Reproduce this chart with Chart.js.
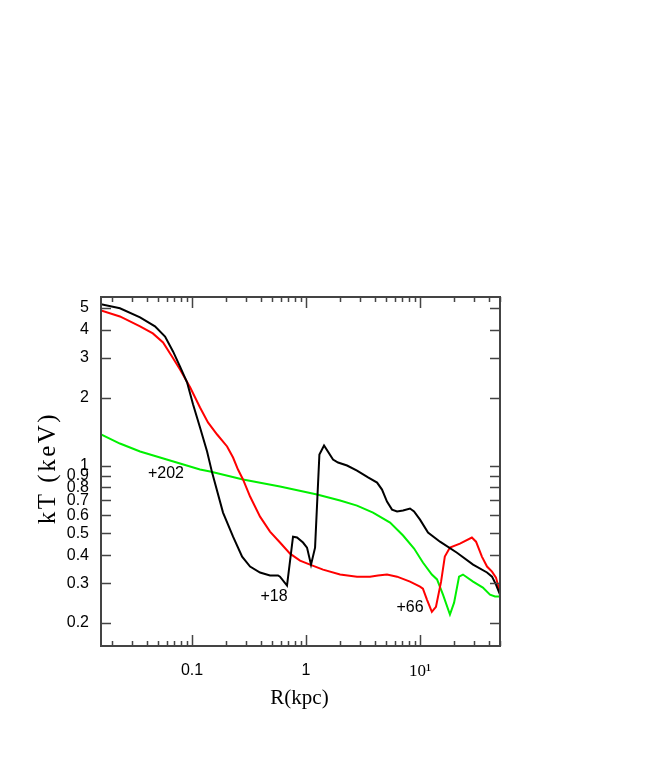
<!DOCTYPE html>
<html>
<head>
<meta charset="utf-8">
<script src="https://cdn.jsdelivr.net/npm/chart.js@4.4.1/dist/chart.umd.min.js"></script>
<style>
  body { margin: 0; background: #fff; }
</style>
</head>
<body>
<canvas id="kt-chart" width="654" height="763"></canvas>
<script>
// black profile
const blackR  = [0.0159, 0.0233, 0.035, 0.0473, 0.058, 0.0681, 0.0785, 0.0904, 0.102, 0.1175, 0.1355, 0.150, 0.187, 0.229, 0.275, 0.323, 0.395, 0.483, 0.568, 0.591, 0.681, 0.769, 0.834, 0.941, 1.02, 1.106, 1.2, 1.31, 1.439, 1.725, 1.91, 2.29, 2.80, 3.50, 4.20, 4.64, 5.13, 5.68, 6.29, 7.10, 8.17, 8.86, 10, 11.75, 14.97, 21.1, 29.2, 38.7, 42.8, 46.4, 50.3];
const blackKT = [5.20, 4.99, 4.55, 4.15, 3.74, 3.21, 2.75, 2.34, 1.87, 1.475, 1.154, 0.93, 0.618, 0.483, 0.394, 0.356, 0.335, 0.325, 0.325, 0.321, 0.293, 0.483, 0.479, 0.455, 0.432, 0.363, 0.432, 1.12, 1.227, 1.063, 1.031, 1.0, 0.95, 0.885, 0.84, 0.782, 0.692, 0.637, 0.625, 0.631, 0.644, 0.625, 0.575, 0.504, 0.459, 0.410, 0.363, 0.335, 0.321, 0.296, 0.267];

// red profile
const redR  = [0.0159, 0.0233, 0.035, 0.0453, 0.0557, 0.0667, 0.0785, 0.0964, 0.1175, 0.138, 0.166, 0.203, 0.229, 0.253, 0.28, 0.323, 0.395, 0.483, 0.591, 0.724, 0.886, 1.084, 1.41, 1.99, 2.80, 3.64, 4.28, 5.13, 6.29, 8.17, 10, 10.6, 11.5, 12.7, 13.8, 15.3, 16.5, 18.3, 22.4, 28.5, 31, 34.9, 38.7, 42.8, 46.4, 50.3];
const redKT = [4.88, 4.59, 4.15, 3.86, 3.52, 3.05, 2.67, 2.22, 1.81, 1.553, 1.373, 1.215, 1.085, 0.96, 0.867, 0.728, 0.593, 0.509, 0.455, 0.406, 0.378, 0.363, 0.345, 0.328, 0.321, 0.321, 0.325, 0.328, 0.321, 0.305, 0.290, 0.284, 0.254, 0.224, 0.236, 0.305, 0.394, 0.432, 0.45, 0.479, 0.459, 0.394, 0.356, 0.338, 0.318, 0.273];

// green profile
const greenR  = [0.0159, 0.0233, 0.035, 0.0524, 0.0785, 0.1175, 0.144, 0.28, 0.591, 1.249, 1.99, 2.80, 3.87, 5.46, 7.10, 8.87, 10.6, 12.7, 14.1, 15.9, 18.3, 19.9, 22.0, 23.8, 29.2, 35.6, 41.1, 45.5, 50.3];
const greenKT = [1.373, 1.252, 1.154, 1.085, 1.02, 0.96, 0.94, 0.867, 0.807, 0.743, 0.699, 0.664, 0.618, 0.558, 0.489, 0.428, 0.371, 0.328, 0.312, 0.267, 0.218, 0.246, 0.321, 0.328, 0.305, 0.287, 0.267, 0.262, 0.262];

// axis ticks
const xTickValues = [0.1, 1, 10];
const xTickLabels = ['0.1', '1', '10\u00b9'];
const yTickValues = [0.2, 0.3, 0.4, 0.5, 0.6, 0.7, 0.8, 0.9, 1, 2, 3, 4, 5];
const yTickLabels = ['0.2', '0.3', '0.4', '0.5', '0.6', '0.7', '0.8', '0.9', '1', '2', '3', '4', '5'];

// text marks on the plot
const noteText = ['+202', '+18', '+66'];
const noteR    = [0.0591, 0.524, 8.17];
const noteKT   = [0.921, 0.262, 0.234];

const SANS = "'Liberation Sans', Arial, sans-serif";
const SERIF = "'Liberation Serif', 'Times New Roman', serif";

const toPoints = (rs, kts) => rs.map((r, i) => ({ x: r, y: kts[i] }));

const frameTicks = {
  id: 'frameTicks',
  afterDatasetsDraw(chart) {
    const { ctx, chartArea: a, scales: { x, y } } = chart;
    ctx.save();
    ctx.strokeStyle = '#444';
    ctx.lineWidth = 1.5;
    ctx.beginPath();
    // x ticks, inward, bottom and top
    for (const d of [0.01, 0.1, 1, 10]) {
      for (let m = 1; m <= 9; m++) {
        const v = m * d;
        if (v < x.min || v > x.max) continue;
        const px = Math.round(x.getPixelForValue(v)) + 0.5;
        const len = m === 1 ? 11 : 5;
        ctx.moveTo(px, a.bottom); ctx.lineTo(px, a.bottom - len);
        ctx.moveTo(px, a.top); ctx.lineTo(px, a.top + len);
      }
    }
    // y ticks, inward, left and right
    yTickValues.forEach(v => {
      const py = Math.round(y.getPixelForValue(v)) + 0.5;
      ctx.moveTo(a.left, py); ctx.lineTo(a.left + 10, py);
      ctx.moveTo(a.right, py); ctx.lineTo(a.right - 10, py);
    });
    ctx.stroke();
    ctx.lineWidth = 2;
    ctx.strokeRect(a.left, a.top, a.right - a.left, a.bottom - a.top);

    // notes
    ctx.fillStyle = '#000';
    ctx.font = '16px ' + SANS;
    ctx.textAlign = 'center';
    ctx.textBaseline = 'middle';
    noteText.forEach((t, i) => {
      ctx.fillText(t, x.getPixelForValue(noteR[i]), y.getPixelForValue(noteKT[i]));
    });

    // axis titles
    ctx.font = '21px ' + SERIF;
    ctx.fillText('R(kpc)', (a.left + a.right) / 2 - 1, 698);
    ctx.translate(48, 468);
    ctx.rotate(-Math.PI / 2);
    ctx.font = '25px ' + SERIF;
    ctx.letterSpacing = '2.5px';
    ctx.fillText('kT (keV)', 0, 0);
    ctx.restore();
  }
};

const ktChart = new Chart(document.getElementById('kt-chart'), {
  type: 'line',
  data: {
    datasets: [
      { label: 'black', data: toPoints(blackR, blackKT), borderColor: '#000', borderWidth: 2 },
      { label: 'red', data: toPoints(redR, redKT), borderColor: '#ff0000', borderWidth: 2 },
      { label: 'green', data: toPoints(greenR, greenKT), borderColor: '#00f000', borderWidth: 2 },
    ]
  },
  options: {
    responsive: false,
    animation: false,
    devicePixelRatio: 1,
    elements: { point: { radius: 0 }, line: { tension: 0 } },
    layout: { padding: { left: 41, top: 297, right: 154, bottom: 47 } },
    plugins: { legend: { display: false }, tooltip: { enabled: false } },
    scales: {
      x: {
        type: 'logarithmic',
        min: 0.0159,
        max: 50.3,
        grid: { display: false, drawTicks: false },
        border: { display: false },
        afterFit: (scale) => { scale.height = 70; },
        afterBuildTicks: (scale) => { scale.ticks = xTickValues.map(v => ({ value: v })); },
        ticks: {
          autoSkip: false,
          maxRotation: 0,
          padding: 15,
          color: '#000',
          font: (c) => c.index === 2 ? { family: SERIF, size: 17 } : { family: SANS, size: 16 },
          callback: (value, index) => xTickLabels[index]
        }
      },
      y: {
        type: 'logarithmic',
        min: 0.158,
        max: 5.6,
        grid: { display: false, drawTicks: false },
        border: { display: false },
        afterFit: (scale) => { scale.width = 60; },
        afterBuildTicks: (scale) => { scale.ticks = yTickValues.map(v => ({ value: v })); },
        ticks: {
          autoSkip: false,
          padding: 12,
          color: '#000',
          font: { family: SANS, size: 16 },
          callback: (value, index) => yTickLabels[index]
        }
      }
    }
  },
  plugins: [frameTicks]
});
</script>
</body>
</html>
